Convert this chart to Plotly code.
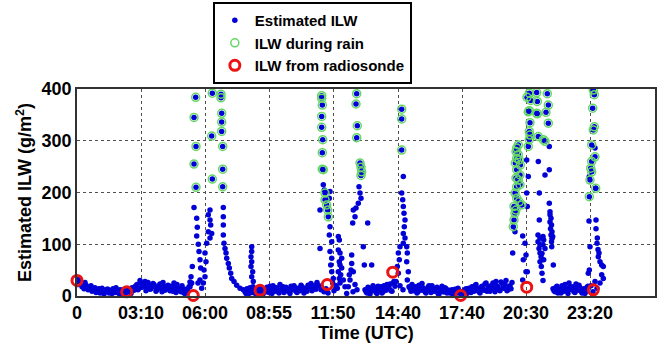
import plotly.graph_objects as go

# Sample position of each labelled time on the x axis (one label every ~64 samples)
tick_pos = [0, 64, 128, 192, 256, 321, 385, 449, 513]
tick_text = ["0", "03:10", "06:00", "08:55", "11:50", "14:40", "17:40", "20:30", "23:20"]

# Estimated ILW outside rain periods (g/m^2)
dry_x = [
    # 00:00 - 06:00 background
    0, 2, 4, 6, 8, 10, 12, 14, 16, 18, 20, 22, 24, 26, 28, 30, 32, 34, 36, 38,
    40, 42, 44, 46, 48, 50, 52, 54, 56, 58, 60, 62, 64, 66, 68, 70, 72, 74, 76, 78,
    80, 82, 84, 86, 88, 90, 92, 94, 96, 98, 100, 102, 104, 106, 108, 110, 112, 114,
    1, 3, 5, 7, 9, 11, 13, 15, 17, 19, 21, 23, 25, 27, 29, 31, 33, 35, 37, 39,
    41, 43, 45, 47, 49, 51, 53, 55, 57, 59, 61, 63, 65, 67, 69, 71, 73, 75, 77, 79,
    81, 83, 85, 87, 89, 91, 93, 95, 97, 99, 101, 103, 105, 107, 109, 111, 113,
    # first event (around 06:00)
    117, 119.7, 120.3, 119.7, 121.3, 122, 123, 123.7, 115.3, 114, 114.7, 113, 121, 123,
    133, 131.3, 133, 133.7, 131.3, 134.7, 133, 129.7, 128, 129, 127, 128, 126.3, 124.7,
    146.3, 146.3, 146.3, 146.3, 147, 148, 149, 149.7, 151.3, 152.3, 153.7, 154.7, 157, 159.7, 163, 166.3,
    174.7, 174.7, 174, 174.7, 174, 175.7, 174.7, 176.3,
    # 08:55 - 11:50 background
    168, 170, 172, 174, 176, 178, 180, 182, 184, 186, 188, 190, 192, 194, 196, 198, 200, 202,
    204, 206, 208, 210, 212, 214, 216, 218, 220, 222, 224, 226, 228, 230, 232, 234, 236, 238, 240,
    169, 171, 173, 175, 177, 179, 181, 183, 185, 187, 189, 191, 193, 195, 197, 199, 201, 203,
    205, 207, 209, 211, 213, 215, 217, 219, 221, 223, 225, 227, 229, 231, 233, 235, 237, 239,
    # second event (around 11:50)
    246.3, 247.3, 253, 243, 252.3, 253, 252.3, 254.7, 243, 253, 254.7, 253.7, 254.7, 256.3, 255.7,
    261.3, 262.3, 261.3, 263, 264.7, 262.3, 263, 264.7, 261.3, 263.7, 262.3, 263, 260.3,
    266.3, 268, 269.7, 271.3, 273, 272.3, 274,
    242, 244, 247, 249, 251, 257, 259, 276, 278, 280,
    # third event (between 11:50 and 14:40)
    282, 283, 284, 281.3, 279, 276.3, 278, 275.7, 290.7, 274.7, 274.7, 276.3, 294.7, 287.3, 286.3,
    288, 290, 292, 294, 296, 298, 300, 302, 304, 306, 308, 310, 312, 314, 316, 318,
    289, 291, 293, 295, 297, 299, 301, 303, 305, 307, 309, 311, 313, 315, 317,
    # fourth event (around 14:40)
    326.3, 324.7, 325.7, 326.3, 327, 328, 327.3, 326.3, 328, 326.3, 323, 321.3, 322.3, 320.3, 321.3,
    329.7, 330.3, 329.7, 331.3, 330.3, 319, 323, 326, 332,
    # 14:40 - 20:30 background
    333, 335, 337, 339, 341, 343, 345, 347, 349, 351, 353, 355, 357, 359, 361, 363, 365, 367, 369, 371,
    373, 375, 377, 379, 381, 383, 385, 387, 389, 391, 393, 395, 397, 399, 401, 403, 405, 407, 409, 411,
    413, 415, 417, 419, 421, 423, 425, 427, 429, 431, 433, 435,
    334, 336, 338, 340, 342, 344, 346, 348, 350, 352, 354, 356, 358, 360, 362, 364, 366, 368, 370, 372,
    374, 376, 378, 380, 382, 384, 386, 388, 390, 392, 394, 396, 398, 400, 402, 404, 406, 408, 410, 412,
    414, 416, 418, 420, 422, 424, 426, 428, 430, 432, 434,
    # fifth event (around 20:30)
    435.7, 438, 445.7, 448, 449, 450.3, 449.7, 451.3, 449.7, 450.3, 446.3, 449, 445.7,
    461.3, 462.3, 462.3, 461, 463, 461, 463, 462, 463, 464, 463, 464.3, 465, 466,
    472.3, 472.3, 468, 472.3, 473, 473, 474, 473, 474.5, 473.5, 475, 474, 475, 474.5,
    466, 466.7, 466, 468, 465, 466.7, 475.7, 474.7, 476.3,
    # 20:30 - 23:20 background
    476, 478, 480, 482, 484, 486, 488, 490, 492, 494, 496, 498, 500, 502, 504, 506, 508, 510,
    477, 479, 481, 483, 485, 487, 489, 491, 493, 495, 497, 499, 501, 503, 505, 507, 509, 511,
    # sixth event (around 23:20)
    512, 519, 519, 520.3, 521.3, 523, 524.7, 526.3, 524.7, 526.3, 523, 512.3, 513, 518.7, 518,
    512.3, 520, 521, 522, 518, 520, 511.3, 514, 516,
]
dry_y = [
    28, 32, 24, 20, 26, 18, 15, 20, 12, 16, 10, 14, 8, 12, 9, 13, 6, 10, 14, 7,
    11, 5, 9, 12, 6, 8, 10, 5, 14, 18, 22, 15, 25, 19, 28, 16, 21, 14, 24, 18,
    12, 20, 15, 26, 11, 17, 13, 19, 9, 16, 22, 12, 8, 14, 5, 11, 18, 24,
    22, 26, 18, 14, 21, 12, 17, 9, 13, 7, 11, 6, 15, 4, 10, 13, 8, 5, 11, 16,
    7, 12, 3, 9, 6, 13, 8, 16, 11, 20, 12, 30, 17, 23, 10, 26, 13, 19, 22, 9,
    16, 23, 8, 19, 14, 21, 10, 17, 25, 7, 15, 10, 20, 6, 13, 9, 27,
    171, 150, 133, 116, 100, 86, 70, 54, 57, 37, 25, 18, 25, 31,
    166, 157, 147, 137, 124, 121, 112, 102, 83, 66, 50, 37, 25, 15,
    171, 153, 137, 118, 102, 92, 83, 73, 63, 54, 44, 34, 28, 21, 15, 12,
    95, 86, 76, 66, 57, 47, 37, 28,
    8, 14, 5, 10, 18, 12, 6, 15, 9, 4, 11, 17, 7, 13, 20, 9, 15, 6,
    12, 18, 10, 14, 8, 19, 12, 16, 7, 13, 21, 11, 15, 9, 18, 24, 14, 20, 26,
    5, 11, 16, 7, 13, 3, 10, 17, 6, 12, 8, 14, 19, 5, 11, 16, 9, 22,
    13, 7, 17, 11, 5, 14, 20, 9, 15, 10, 18, 6, 12, 21, 16, 10, 19, 13,
    215, 205, 202, 166, 189, 134, 118, 105, 92, 86, 73, 60, 47, 34, 25,
    115, 108, 89, 83, 73, 66, 60, 54, 47, 41, 34, 25, 15,
    31, 18, 5, 18, 31, 41, 50,
    20, 12, 8, 14, 6, 10, 20, 8, 22, 12,
    211, 199, 189, 179, 170, 166, 153, 141, 141, 79, 63, 47, 60, 60, 95,
    12, 6, 15, 9, 20, 11, 5, 14, 18, 8, 13, 22, 16, 10, 25, 19,
    8, 17, 4, 12, 15, 7, 19, 10, 6, 20, 11, 14, 23, 9, 28,
    231, 199, 186, 173, 160, 147, 134, 121, 112, 102, 95, 83, 70, 57, 44,
    95, 83, 66, 47, 31, 28, 20, 12, 18,
    15, 22, 10, 18, 8, 14, 24, 12, 6, 17, 11, 20, 9, 15, 5, 13, 19, 8, 14, 10,
    6, 12, 4, 9, 15, 7, 3, 10, 14, 8, 12, 18, 9, 22, 14, 6, 19, 11, 25, 16,
    9, 21, 13, 28, 17, 10, 24, 15, 30, 12, 20, 26,
    9, 18, 13, 6, 21, 11, 16, 8, 13, 20, 7, 14, 10, 17, 4, 12, 8, 16, 6, 11,
    9, 3, 13, 6, 10, 2, 8, 12, 5, 15, 7, 14, 20, 11, 8, 17, 13, 23, 9, 19,
    14, 25, 8, 19, 12, 27, 16, 22, 10, 18, 14,
    83, 124, 116, 102, 79, 47, 263, 231, 199, 173, 70, 47, 31,
    260, 199, 147, 118, 112, 105, 99, 92, 83, 76, 66, 57, 44, 30,
    289, 244, 234, 179, 163, 157, 150, 143, 137, 130, 124, 118, 111, 105,
    115, 108, 99, 92, 82, 70, 115, 95, 60,
    14, 8, 19, 11, 6, 16, 22, 10, 25, 13, 18, 7, 15, 21, 9, 12, 5, 17,
    10, 17, 6, 13, 20, 9, 15, 5, 18, 12, 8, 23, 11, 16, 6, 14, 9, 19,
    145, 147, 130, 112, 76, 66, 60, 57, 41, 34, 25, 50, 95, 208, 286,
    231, 102, 90, 83, 28, 15, 44, 20, 8,
]

# Estimated ILW while rain was detected (g/m^2)
rain_x = [
    118.7, 117, 119, 117, 119, 135.3, 134.7, 135.3, 144, 144, 144.7, 144.7, 144.7, 145.7, 145.7, 145.7,
    244.7, 244.7, 245.3, 244.7, 244.7, 245.7, 245.3, 245.3, 246.3, 248, 248, 249.7, 250.7, 251.3,
    279.7, 279, 280.3, 279.7, 283, 284, 284.7, 284,
    324.7, 324.7, 324.7,
    441.3, 439.7, 439, 441.3, 439.7, 442.3, 438.3, 443.3, 439.7, 443, 439, 441.3, 439.7, 443,
    438, 439.7, 442.3, 444.7, 437, 439, 438, 437, 436.3,
    452.3, 453.7, 451.3, 453, 452.3, 453, 452.3, 451.3, 450, 452.3,
    459.7, 460.3, 459.7, 460.3, 461.3, 466.3, 469, 470.3, 471.3, 471.3, 468,
    516.3, 517.3, 515.7, 517.3, 516.3, 514.7, 518, 514.7, 513.7, 514.7, 513, 512.3, 518.7,
]
rain_y = [
    384, 345, 289, 255, 210, 392, 309, 226, 390, 383, 353, 336, 318, 289, 245, 211,
    387, 382, 369, 347, 326, 302, 277, 245, 244, 199, 186, 176, 166, 153,
    391, 371, 329, 306, 257, 249, 240, 233,
    361, 342, 282,
    292, 286, 279, 273, 266, 263, 257, 253, 244, 234, 228, 224, 211, 215,
    199, 189, 182, 176, 173, 166, 160, 147, 134,
    392, 378, 356, 335, 318, 311, 302, 289, 384, 358,
    393, 376, 353, 352, 308, 302, 355, 391, 369, 334, 299,
    398, 389, 363, 327, 321, 292, 269, 260, 247, 240, 224, 192, 208,
]

# ILW retrieved from radiosonde launches (g/m^2)
sonde_x = [0, 49.7, 116.3, 183, 250.3, 315.7, 383.7, 449.7, 516.3]
sonde_y = [30, 8, 1, 11, 22, 46, 1, 17, 12]

BOLD = dict(family="Arial, Liberation Sans, sans-serif", color="black", weight="bold")

fig = go.Figure()
fig.add_trace(go.Scatter(
    x=dry_x + rain_x, y=dry_y + rain_y, mode="markers", name="Estimated ILW",
    marker=dict(color="rgb(0,0,215)", size=5.5, line=dict(width=0)),
))
fig.add_trace(go.Scatter(
    x=rain_x, y=rain_y, mode="markers", name="ILW during rain",
    marker=dict(symbol="circle-open", color="rgb(100,215,100)", size=8, line=dict(width=1.5)),
))
fig.add_trace(go.Scatter(
    x=sonde_x, y=sonde_y, mode="markers", name="ILW from radiosonde",
    cliponaxis=False,
    marker=dict(symbol="circle-open", color="rgb(235,20,20)", size=10, line=dict(width=3)),
))

fig.update_layout(
    width=670, height=348,
    margin=dict(l=77, r=15, t=89, b=52, autoexpand=False),
    paper_bgcolor="white", plot_bgcolor="white",
    showlegend=True,
    legend=dict(
        x=0.235, y=1.42, xanchor="left", yanchor="top",
        bgcolor="white", bordercolor="black", borderwidth=2,
        font=dict(size=15, **BOLD),
        itemclick=False, itemdoubleclick=False,
    ),
)
fig.update_xaxes(
    range=[0, 578], tickvals=tick_pos, ticktext=tick_text, ticks="",
    tickfont=dict(size=18, **BOLD),
    showgrid=True, gridcolor="rgb(80,80,80)", gridwidth=1, griddash="3px,3px",
    showline=True, linecolor="rgb(50,50,50)", linewidth=1.5, mirror=True,
    zeroline=False,
    title=dict(text="Time (UTC)", font=dict(size=18, **BOLD), standoff=4),
)
fig.update_yaxes(
    range=[0, 400], tickvals=[0, 100, 200, 300, 400], ticks="",
    tickfont=dict(size=18, **BOLD),
    showgrid=True, gridcolor="rgb(80,80,80)", gridwidth=1, griddash="3px,3px",
    showline=True, linecolor="rgb(50,50,50)", linewidth=1.5, mirror=True,
    zeroline=False,
    title=dict(text="Estimated ILW (g/m<sup>2</sup>)", font=dict(size=18, **BOLD), standoff=5),
)

fig.write_html("out.html")
